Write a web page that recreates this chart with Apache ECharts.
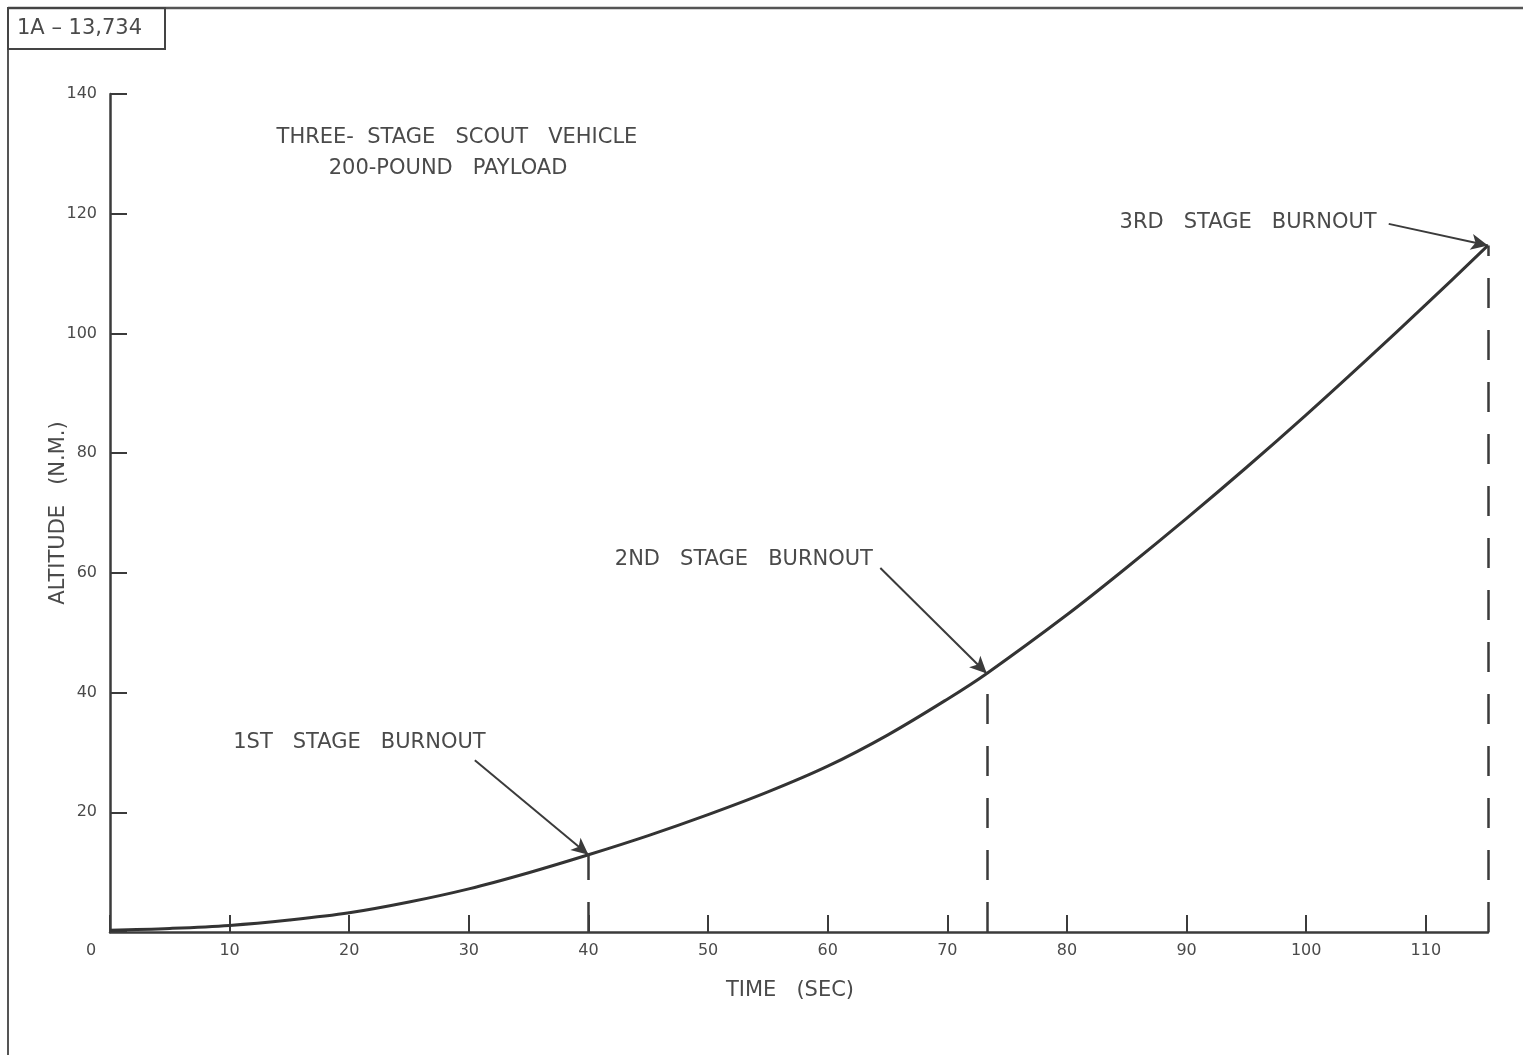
<!DOCTYPE html>
<html>
<head>
<meta charset="utf-8">
<script src="https://cdn.jsdelivr.net/npm/echarts@6/dist/echarts.min.js"></script>
<style>
  html, body { margin: 0; padding: 0; background: #ffffff; }
  #chart { width: 1523px; height: 1055px; }
</style>
</head>
<body>
<div id="chart"></div>
<script>
// Altitude history of the three-stage Scout vehicle, 200-lb payload
const timeSec    = [0,   5,   10,  15,  20,  25,  30,  35,  40,   45,   50,   55,   60,   65,   70,   73.3, 80,   85,   90,   95,   100,  105,  110,   115.2];
const altitudeNM = [0.3, 0.6, 1.1, 2.0, 3.2, 5.0, 7.2, 9.9, 12.9, 16.1, 19.6, 23.4, 27.7, 32.9, 38.9, 43.2, 53.0, 60.9, 69.1, 77.6, 86.4, 95.5, 104.8, 114.7];

// Stage burnout events (times are points on the curve above)
const burnoutNames = ['1ST   STAGE   BURNOUT', '2ND   STAGE   BURNOUT', '3RD   STAGE   BURNOUT'];
const burnoutTimes = [40, 73.3, 115.2];

const titleLines = ['THREE-  STAGE   SCOUT   VEHICLE', '200-POUND   PAYLOAD'];
const figureId = '1A – 13,734';

const INK = '#3b3b3b';
const TEXT = '#4a4a4a';
const FONT = '"DejaVu Sans", "Noto Sans", sans-serif';

const burnoutAlt = burnoutTimes.map(t => altitudeNM[timeSec.indexOf(t)]);

// label anchors (left edge, middle) and arrow tails, in axis units
const labelAnchor = [[10.3, 31.6], [42.2, 62.3], [84.4, 118.6]];
const arrowTail   = [[30.5, 28.7], [64.4, 60.8], [106.9, 118.3]];

const chart = echarts.init(document.getElementById('chart'), null, { renderer: 'canvas' });

const dropLines = burnoutTimes.map((t, i) => [
  { coord: [t, 0], symbol: 'none', lineStyle: { type: [30, 22], width: 2.5, color: INK } },
  { coord: [t, burnoutAlt[i]], symbol: 'none' }
]);
const arrows = burnoutTimes.map((t, i) => [
  { coord: arrowTail[i], symbol: 'none', lineStyle: { type: 'solid', width: 2, color: INK } },
  { coord: [t, burnoutAlt[i]], symbol: 'arrow', symbolSize: [12, 17] }
]);

const option = {
  backgroundColor: '#ffffff',
  animation: false,
  grid: { left: 110, top: 94, width: 1378, height: 838, containLabel: false },
  xAxis: {
    type: 'value',
    min: 0,
    max: 115.2,
    interval: 10,
    name: 'TIME   (SEC)',
    nameLocation: 'middle',
    nameGap: 48,
    nameMoveOverlap: false,
    nameTextStyle: { fontFamily: FONT, fontSize: 21, color: TEXT, padding: [0, 18, 0, 0] },
    axisLine: { show: true, lineStyle: { color: INK, width: 2.5 } },
    axisTick: { show: true, inside: true, length: 17, lineStyle: { color: INK, width: 2 } },
    axisLabel: {
      margin: 11,
      fontFamily: FONT,
      fontSize: 16,
      color: TEXT,
      showMaxLabel: false,
      formatter: v => v === 0 ? '{o|0}' : (Math.abs(v % 10) < 1e-9 ? String(v) : ''),
      rich: { o: { fontFamily: FONT, fontSize: 16, color: TEXT, padding: [0, 38, 0, 0] } }
    },
    splitLine: { show: false }
  },
  yAxis: {
    type: 'value',
    min: 0,
    max: 140,
    interval: 20,
    name: 'ALTITUDE   (N.M.)',
    nameLocation: 'middle',
    nameGap: 41,
    nameMoveOverlap: false,
    nameTextStyle: { fontFamily: FONT, fontSize: 21, color: TEXT },
    axisLine: { show: true, lineStyle: { color: INK, width: 2.5 } },
    axisTick: { show: true, inside: true, length: 17, lineStyle: { color: INK, width: 2 } },
    axisLabel: {
      margin: 13,
      fontFamily: FONT,
      fontSize: 16,
      color: TEXT,
      formatter: v => v === 0 ? '' : String(v)
    },
    splitLine: { show: false }
  },
  series: [{
    type: 'line',
    data: timeSec.map((t, i) => [t, altitudeNM[i]]),
    smooth: 0.35,
    showSymbol: false,
    lineStyle: { color: '#333333', width: 3 },
    silent: true,
    markLine: {
      silent: true,
      animation: false,
      symbol: ['none', 'none'],
      label: { show: false },
      emphasis: { disabled: true },
      data: dropLines.concat(arrows)
    },
    markPoint: {
      silent: true,
      symbol: 'circle',
      symbolSize: 0,
      label: {
        show: true,
        position: 'right',
        distance: 0,
        fontFamily: FONT,
        fontSize: 21,
        color: TEXT,
        formatter: p => p.name
      },
      data: burnoutNames.map((n, i) => ({ name: n, coord: labelAnchor[i] }))
    }
  }],
  graphic: [
    // sheet frame
    { type: 'line', shape: { x1: 8, y1: 8, x2: 1523, y2: 8 }, style: { stroke: '#555', lineWidth: 2.5 }, silent: true },
    { type: 'line', shape: { x1: 8, y1: 8, x2: 8, y2: 1055 }, style: { stroke: '#555', lineWidth: 2 }, silent: true },
    // figure number box
    { type: 'rect', shape: { x: 8, y: 8, width: 157, height: 41 }, style: { stroke: '#444', fill: 'none', lineWidth: 2 }, silent: true },
    { type: 'text', x: 17, y: 29, style: { text: figureId, font: '21px ' + FONT, fill: TEXT, verticalAlign: 'middle' }, silent: true },
    // chart heading
    { type: 'text', x: 457, y: 138, style: { text: titleLines[0], font: '21px ' + FONT, fill: TEXT, align: 'center', verticalAlign: 'middle' }, silent: true },
    { type: 'text', x: 448, y: 169, style: { text: titleLines[1], font: '21px ' + FONT, fill: TEXT, align: 'center', verticalAlign: 'middle' }, silent: true }
  ]
};

chart.setOption(option);
</script>
</body>
</html>
